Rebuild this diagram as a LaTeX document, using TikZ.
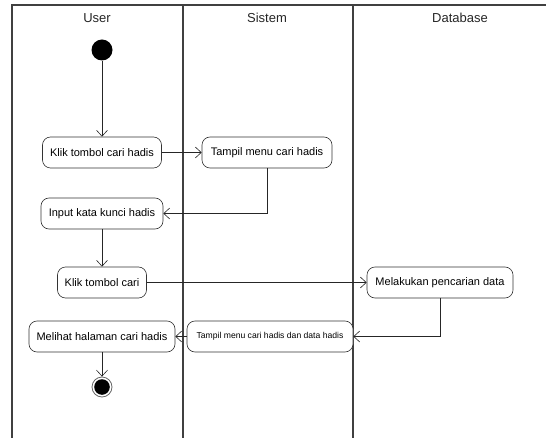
\documentclass[tikz,border=0pt]{standalone}
\usepackage{fontspec}
\setmainfont{Liberation Sans}
\usepackage{tikz}
\usetikzlibrary{arrows.meta,backgrounds,calc}

\tikzset{
  lane/.style={draw=black!75, line width=1.1pt},
  act/.style={draw=black!80, line width=0.6pt, rounded corners=8pt, fill=white,
    minimum height=31pt, inner sep=2pt, font=\fontsize{11}{13}\selectfont},
  flow/.style={draw=black!85, line width=0.6pt, -{Straight Barb[length=6pt,width=11pt]}},
  lanetitle/.style={font=\fontsize{13}{15}\selectfont, text=black!85}
}

\begin{document}
\begin{tikzpicture}[x=1pt,y=-1pt]
\useasboundingbox (0,0) rectangle (548,438);
% swimlanes
\draw[lane] (12,438) -- (12,5) -- (546,5);
\draw[lane] (183,5) -- (183,438);
\draw[lane] (353,5) -- (353,438);
\node[lanetitle] (hUser) at (97,18) {User};
\node[lanetitle] (hSistem) at (267,18) {Sistem};
\node[lanetitle] (hDb) at (460,18) {Database};

% activities
\node[circle, fill=black, minimum size=21pt, inner sep=0pt] (start) at (102,50) {};
\node[act, minimum width=119pt] (klikHadis) at (102,152.5) {Klik tombol cari hadis};
\node[act, minimum width=130pt] (menuHadis) at (267,152.5) {Tampil menu cari hadis};
\node[act, minimum width=122pt] (inputKunci) at (102,213.5) {Input kata kunci hadis};
\node[act, minimum width=89pt] (klikCari) at (102,282.5) {Klik tombol cari};
\node[act, minimum width=146pt] (cariData) at (440,282.5) {Melakukan pencarian data};
\node[act, minimum width=146pt] (lihatHal) at (102,336.5) {Melihat halaman cari hadis};
\node[act, minimum width=166pt, font=\fontsize{8.6}{10}\selectfont] (menuData) at (270,336.5) {Tampil menu cari hadis dan data hadis};
\node[circle, draw=black!60, line width=0.8pt, minimum size=20pt, inner sep=0pt] (stop) at (102,387) {};
\fill (stop.center) circle (7.8pt);

% flows
\draw[flow] (start) -- (klikHadis);
\draw[flow] (klikHadis) -- (menuHadis);
\draw[flow] (menuHadis.south) |- (inputKunci.east);
\draw[flow] (inputKunci) -- (klikCari);
\draw[flow] (klikCari) -- (cariData);
\draw[flow] (cariData.south) |- (menuData.east);
\draw[flow] (menuData) -- (lihatHal);
\draw[flow] (lihatHal) -- (stop);
\end{tikzpicture}
\end{document}
